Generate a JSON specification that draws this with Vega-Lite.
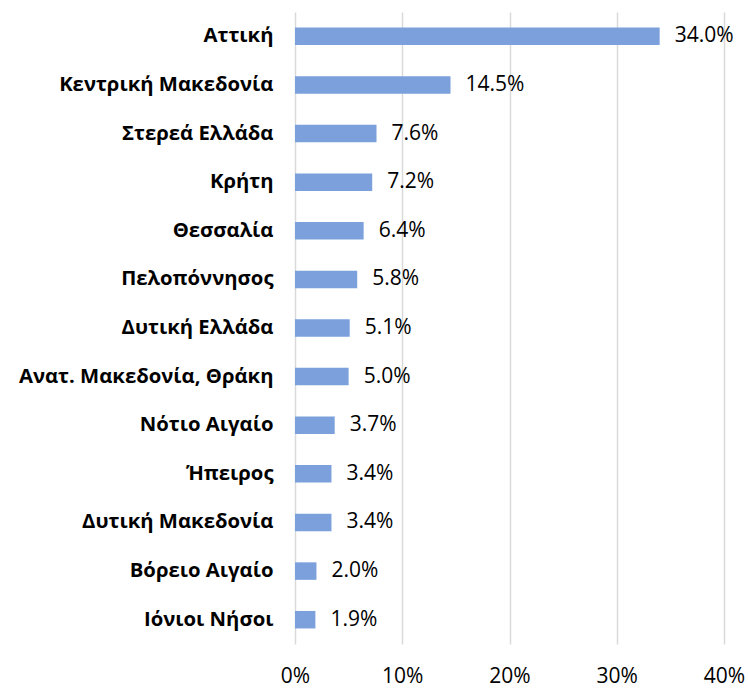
{
  "$schema": "https://vega.github.io/schema/vega-lite/v6.json",
  "autosize": {"type": "none"},
  "width": 429,
  "height": 632,
  "padding": {"left": 295, "top": 12, "right": 24, "bottom": 44},
  "background": "white",
  "config": {"view": {"stroke": null}, "font": "Open Sans"},
  "data": {"values": [
    {"region": "Αττική", "share": 0.340},
    {"region": "Κεντρική Μακεδονία", "share": 0.145},
    {"region": "Στερεά Ελλάδα", "share": 0.076},
    {"region": "Κρήτη", "share": 0.072},
    {"region": "Θεσσαλία", "share": 0.064},
    {"region": "Πελοπόννησος", "share": 0.058},
    {"region": "Δυτική Ελλάδα", "share": 0.051},
    {"region": "Ανατ. Μακεδονία, Θράκη", "share": 0.050},
    {"region": "Νότιο Αιγαίο", "share": 0.037},
    {"region": "Ήπειρος", "share": 0.034},
    {"region": "Δυτική Μακεδονία", "share": 0.034},
    {"region": "Βόρειο Αιγαίο", "share": 0.020},
    {"region": "Ιόνιοι Νήσοι", "share": 0.019}
  ]},
  "encoding": {
    "y": {
      "field": "region", "type": "nominal", "sort": null,
      "scale": {"paddingInner": 0.64, "paddingOuter": 0.32},
      "axis": {"title": null, "ticks": false, "domain": false, "labelFont": "Open Sans", "labelFontWeight": "bold", "labelFontSize": 20.3, "labelColor": "#000000", "labelPadding": 22, "labelLimit": 400}
    },
    "x": {
      "field": "share", "type": "quantitative",
      "scale": {"domain": [0, 0.4], "nice": false},
      "axis": {"title": null, "format": ".0%", "values": [0, 0.1, 0.2, 0.3, 0.4], "ticks": false, "domain": false, "grid": true, "gridColor": "#d9d9d9", "gridWidth": 1.5, "labelFont": "Open Sans", "labelFontSize": 21, "labelColor": "#000000", "labelPadding": 21, "labelFlush": false}
    }
  },
  "layer": [
    {"mark": {"type": "bar", "color": "#7ba0dc"}},
    {"mark": {"type": "text", "align": "left", "baseline": "middle", "dx": 15, "font": "Open Sans", "fontSize": 21, "color": "#000000"},
     "encoding": {"text": {"field": "share", "type": "quantitative", "format": ".1%"}}}
  ]
}
